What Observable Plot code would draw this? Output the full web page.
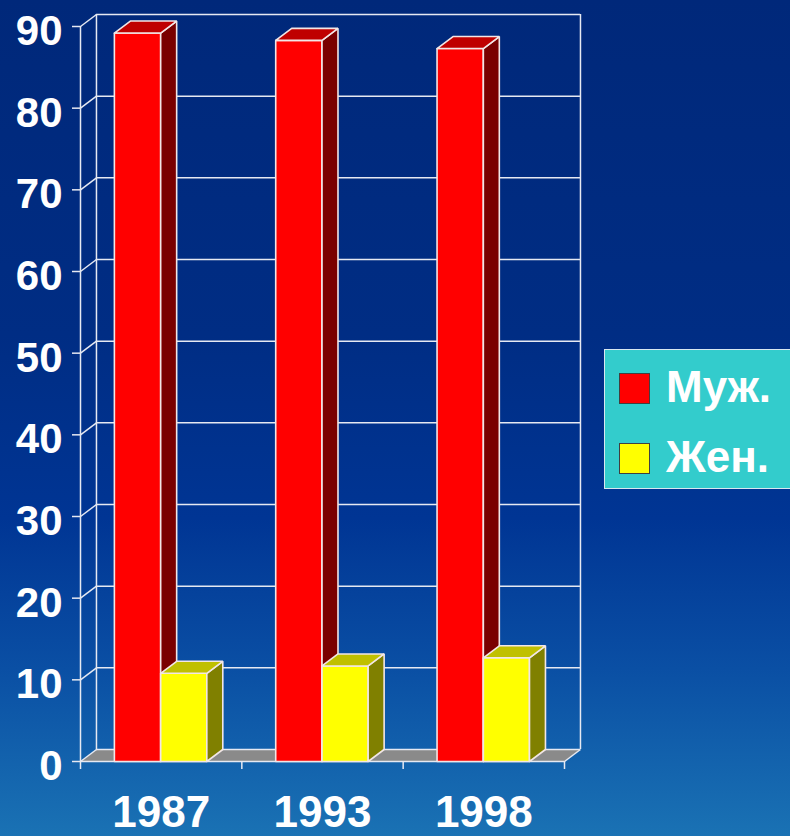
<!DOCTYPE html>
<html>
<head>
<meta charset="utf-8">
<script src="https://cdn.jsdelivr.net/npm/d3@7"></script>
<script src="https://cdn.jsdelivr.net/npm/@observablehq/plot@0.6"></script>
<style>
  html, body { margin: 0; padding: 0; }
  body {
    width: 790px; height: 836px; overflow: hidden; position: relative;
    background: linear-gradient(to bottom, #00287a 0%, #002d84 40%, #003594 62%, #0a4fa4 80%, #1a72b4 100%);
    font-family: "Liberation Sans", Arial, sans-serif;
  }
  #chart { position: absolute; left: 0; top: 0; }
  #legend {
    position: absolute; left: 604px; top: 349px; width: 190px; height: 140px;
    background: #33cccc; border: 1px solid #d8e8f0; box-sizing: border-box;
  }
  .sw { position: absolute; left: 14px; width: 31px; height: 31px; border: 1px solid #404040; box-sizing: border-box; }
  .lab { position: absolute; left: 61px; color: white; font-weight: bold; font-size: 44px; line-height: 44px; white-space: nowrap; }
</style>
</head>
<body>
<div id="chart"></div>
<div id="legend"></div>
<script>
// ---- data ----
const years = ["1987", "1993", "1998"];
const male = [89.2, 88.3, 87.3];
const female = [10.8, 11.7, 12.7];
const yTicks = [0, 10, 20, 30, 40, 50, 60, 70, 80, 90];
const seriesNames = ["Муж.", "Жен."];
const seriesColors = ["#ff0000", "#ffff00"];

// oblique projection of depth (category units, value units)
const DX = 0.099, DY = 1.47;
const P = (u, v, z) => ({x: u + z * DX, y: v + z * DY});

const barSlots = [[0.21, 0.497], [0.497, 0.783]];
const faces = []; // {id, series, face, x, y}
function poly(id, series, face, pts) {
  pts.concat([pts[0]]).forEach(p => faces.push({id, series, face, x: p.x, y: p.y}));
}
years.forEach((yr, i) => {
  [male, female].forEach((vals, s) => {
    const u0 = i + barSlots[s][0], u1 = i + barSlots[s][1], h = vals[i];
    const id = yr + "-" + s;
    poly(id, s, "front", [P(u0,0,0), P(u1,0,0), P(u1,h,0), P(u0,h,0)]);
    poly(id, s, "side",  [P(u1,0,0), P(u1,0,1), P(u1,h,1), P(u1,h,0)]);
    poly(id, s, "top",   [P(u0,h,0), P(u1,h,0), P(u1,h,1), P(u0,h,1)]);
  });
});
const n = years.length;
const floor = [];
[P(0,0,0), P(n,0,0), P(n,0,1), P(0,0,1), P(0,0,0)].forEach(p => floor.push({id: "floor", ...p}));

const faceColors = {
  0: {front: "#ff0000", side: "#7a0000", top: "#bf0000"},
  1: {front: "#ffff00", side: "#808000", top: "#c0c000"}
};
const edge = "#f2e6e6";
const grid = "#e6e9f2";

function faceMark(s, face) {
  return Plot.line(faces.filter(d => d.series === s && d.face === face),
    {x: "x", y: "y", z: "id", fill: faceColors[s][face], stroke: edge, strokeWidth: 1.6, strokeLinejoin: "miter"});
}

const font = "Liberation Sans, Arial, sans-serif";
const chart = Plot.plot({
  width: 790, height: 836,
  marginLeft: 80, marginRight: 226, marginTop: 26, marginBottom: 75,
  x: {domain: [0, n]},
  y: {domain: [0, 90]},
  style: {background: "transparent", color: "white", fontFamily: font, overflow: "visible"},
  marks: [
    Plot.line(floor, {x: "x", y: "y", fill: "#8a8a8a", stroke: "none"}),
    Plot.ruleY(yTicks, {y: d => d + DY, x1: () => DX, x2: () => n + DX, stroke: grid, strokeWidth: 1.5}),
    Plot.ruleX([DX, n + DX], {x: d => d, y1: () => DY, y2: () => 90 + DY, stroke: grid, strokeWidth: 1.5}),
    Plot.ruleX([0], {x: d => d, y1: () => 0, y2: () => 90, stroke: grid, strokeWidth: 1.5}),
    Plot.link(yTicks, {x1: () => 0, y1: d => d, x2: () => DX, y2: d => d + DY, stroke: grid, strokeWidth: 1.5}),
    Plot.link([n], {x1: d => d, y1: () => 0, x2: d => d + DX, y2: () => DY, stroke: grid, strokeWidth: 1.5}),
    Plot.ruleY([0], {y: d => d, x1: () => 0, x2: () => n, stroke: grid, strokeWidth: 1.5}),
    faceMark(0, "front"), faceMark(0, "side"), faceMark(0, "top"),
    faceMark(1, "front"), faceMark(1, "side"), faceMark(1, "top"),
    Plot.axisY({ticks: yTicks, tickSize: 8, tickFormat: () => "", color: grid, strokeWidth: 1.5, label: null}),
    Plot.axisY({ticks: yTicks, tickSize: 0, tickPadding: 18, dy: 5, color: "white", fontSize: 42, fontWeight: "bold", fontFamily: font, label: null}),
    Plot.axisX({ticks: d3.range(0, n + 1), tickSize: 8, tickFormat: () => "", color: grid, strokeWidth: 1.5, label: null}),
    Plot.axisX({ticks: years.map((y, i) => i + 0.5), tickSize: 0, tickPadding: 34, tickFormat: d => years[Math.floor(d)], color: "white", fontSize: 44, fontWeight: "bold", fontFamily: font, label: null})
  ]
});
document.getElementById("chart").appendChild(chart);

// legend
const legend = document.getElementById("legend");
seriesNames.forEach((name, i) => {
  const sw = document.createElement("div");
  sw.className = "sw"; sw.style.background = seriesColors[i];
  sw.style.top = (23 + i * 70) + "px";
  const lab = document.createElement("div");
  lab.className = "lab"; lab.textContent = name;
  lab.style.top = (15 + i * 70) + "px";
  legend.appendChild(sw); legend.appendChild(lab);
});
</script>
</body>
</html>
